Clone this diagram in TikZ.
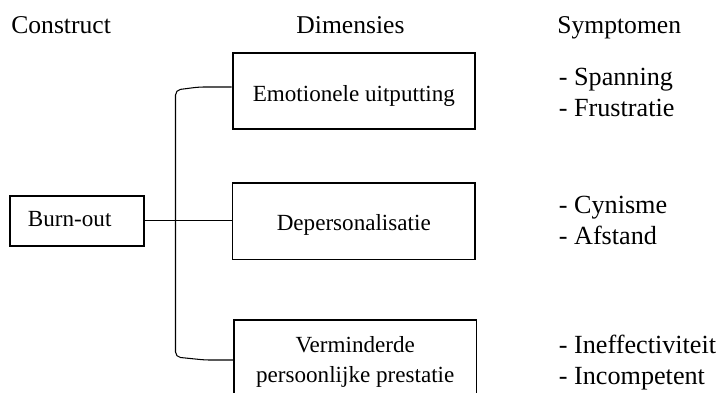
\documentclass[tikz,border=0pt]{standalone}
\usepackage{fontspec}
\setmainfont{Liberation Serif}
\usepackage{tikz}
\usetikzlibrary{positioning, calc}
\newcommand{\hdfont}{\fontsize{14.57}{17}\selectfont}
\tikzstyle{heading} = [anchor=base west, inner sep=0pt, font=\hdfont]
\tikzstyle{dimbox} = [draw, line width=1.1pt, inner sep=0pt, minimum width=4.85cm, minimum height=1.53cm, align=center, font=\fontsize{13.15}{17.07}\selectfont]
\tikzstyle{symptom} = [anchor=base west, inner sep=0pt, font=\fontsize{14.9}{17.6}\selectfont]
\tikzstyle{link} = [line width=0.6pt]

\begin{document}
\begin{tikzpicture}
\useasboundingbox (0,0) rectangle (14.42,7.84);

% Column headers
\node[heading] (hconstruct) at (0.22,7.18) {Construct};
\node[heading, anchor=base] (hdimensies) at (7.01,7.18) {Dimensies};
\node[heading] (hsymptomen) at (11.14,7.18) {Symptomen};

% Construct
\node[dimbox, text height=0.24cm, text depth=0pt, minimum width=2.68cm, minimum height=1cm, text width=1.96cm, inner xsep=0.36cm, align=left] (burnout) at (1.54,3.426) {Burn-out};

% Dimensions
\node[dimbox, text height=0.43cm, text depth=0pt] (emotion) at (7.077,6.02) {Emotionele uitputting};
\node[dimbox, text height=0.35cm, text depth=0pt] (depers) at (7.075,3.415) {Depersonalisatie};
\node[dimbox, minimum height=1.666cm] (prestatie) at (7.105,0.607) {Verminderde\\persoonlijke prestatie};

% Connectors
\draw[link] (burnout.east) -- (burnout.east -| depers.west);
\draw[link, rounded corners=0.1cm] ($(emotion.west)+(0,0.08)$) -- (3.98,6.10) -- (3.51,6.04) -- (3.51,0.70) -- (4.1,0.64) -- (prestatie.west |- 0,0.64);

% Symptoms
\node[symptom] (spanning) at (11.17,6.14) {- Spanning};
\node[symptom] (frustratie) at (11.17,5.52) {- Frustratie};
\node[symptom] (cynisme) at (11.17,3.574) {- Cynisme};
\node[symptom] (afstand) at (11.17,2.954) {- Afstand};
\node[symptom] (ineffect) at (11.17,0.774) {- Ineffectiviteit};
\node[symptom] (incompetent) at (11.17,0.154) {- Incompetent};
\end{tikzpicture}
\end{document}
